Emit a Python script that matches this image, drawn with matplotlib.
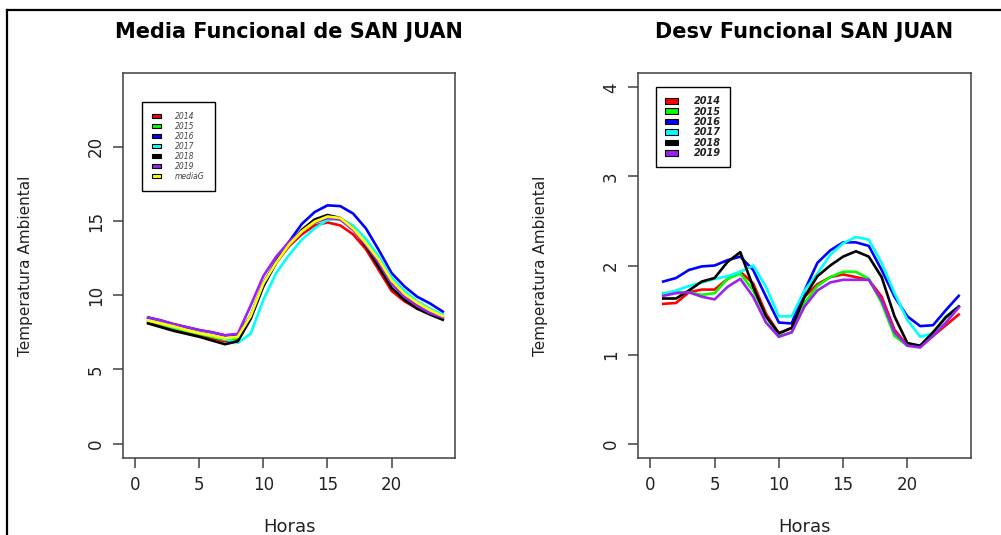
import matplotlib
matplotlib.use("Agg")
import matplotlib.pyplot as plt
from matplotlib.patches import Patch
from matplotlib.lines import Line2D

horas = list(range(1, 25))
anios = ["2014", "2015", "2016", "2017", "2018", "2019"]
colores = ["#FF0000", "#00FF00", "#0000FF", "#00FFFF", "#000000", "#A020F0"]

# media funcional por año
media_2014 = [8.2, 7.95, 7.7, 7.5, 7.3, 7.1, 6.9, 7.0, 8.5, 10.7, 12.2, 13.3, 14.1, 14.7, 14.9, 14.7, 14.1, 13.1, 11.7, 10.3, 9.6, 9.1, 8.75, 8.4]
media_2015 = [8.3, 8.05, 7.8, 7.6, 7.4, 7.2, 7.0, 7.1, 8.6, 10.8, 12.2, 13.4, 14.3, 14.9, 15.2, 15.1, 14.5, 13.4, 12.2, 10.8, 9.9, 9.3, 8.85, 8.5]
media_2016 = [8.5, 8.3, 8.05, 7.85, 7.65, 7.5, 7.3, 7.35, 8.6, 10.8, 12.3, 13.6, 14.8, 15.6, 16.05, 16.0, 15.5, 14.5, 13.05, 11.5, 10.6, 9.9, 9.45, 8.9]
media_2017 = [8.3, 8.1, 7.85, 7.65, 7.45, 7.28, 7.05, 6.8, 7.4, 9.7, 11.5, 12.7, 13.75, 14.5, 15.07, 15.15, 14.7, 13.8, 12.6, 11.2, 10.3, 9.6, 9.1, 8.7]
media_2018 = [8.1, 7.85, 7.6, 7.4, 7.2, 6.95, 6.7, 6.9, 8.4, 10.6, 12.2, 13.4, 14.4, 15.1, 15.4, 15.2, 14.5, 13.3, 11.9, 10.5, 9.7, 9.1, 8.7, 8.35]
media_2019 = [8.5, 8.3, 8.05, 7.85, 7.65, 7.5, 7.3, 7.4, 9.3, 11.3, 12.6, 13.6, 14.3, 14.9, 15.2, 15.1, 14.4, 13.4, 12.2, 10.8, 9.9, 9.3, 8.8, 8.5]
media_g = [8.3, 8.1, 7.9, 7.65, 7.45, 7.28, 7.1, 7.2, 8.6, 10.8, 12.2, 13.4, 14.3, 14.95, 15.3, 15.2, 14.5, 13.5, 12.4, 11.0, 10.1, 9.5, 9.0, 8.6]

# desviacion funcional por año
desv_2014 = [1.57, 1.58, 1.70, 1.73, 1.73, 1.85, 1.93, 1.80, 1.46, 1.24, 1.30, 1.65, 1.79, 1.87, 1.90, 1.87, 1.84, 1.65, 1.28, 1.10, 1.10, 1.21, 1.33, 1.45]
desv_2015 = [1.69, 1.70, 1.70, 1.67, 1.69, 1.85, 1.91, 1.72, 1.43, 1.21, 1.25, 1.58, 1.77, 1.87, 1.93, 1.93, 1.85, 1.58, 1.21, 1.10, 1.10, 1.25, 1.42, 1.54]
desv_2016 = [1.82, 1.86, 1.95, 1.99, 2.00, 2.06, 2.10, 1.95, 1.65, 1.36, 1.35, 1.72, 2.03, 2.17, 2.26, 2.26, 2.22, 1.95, 1.65, 1.43, 1.32, 1.33, 1.50, 1.66]
desv_2017 = [1.68, 1.72, 1.77, 1.81, 1.85, 1.88, 1.93, 2.00, 1.76, 1.43, 1.43, 1.72, 1.91, 2.12, 2.25, 2.32, 2.29, 2.03, 1.69, 1.39, 1.20, 1.24, 1.43, 1.54]
desv_2018 = [1.63, 1.63, 1.72, 1.82, 1.86, 2.04, 2.15, 1.76, 1.43, 1.24, 1.30, 1.65, 1.88, 2.00, 2.10, 2.16, 2.10, 1.87, 1.43, 1.13, 1.10, 1.25, 1.42, 1.54]
desv_2019 = [1.66, 1.69, 1.70, 1.65, 1.62, 1.76, 1.85, 1.65, 1.36, 1.20, 1.25, 1.54, 1.72, 1.81, 1.84, 1.84, 1.84, 1.61, 1.25, 1.10, 1.08, 1.21, 1.36, 1.53]

medias = [media_2014, media_2015, media_2016, media_2017, media_2018, media_2019]
desvs = [desv_2014, desv_2015, desv_2016, desv_2017, desv_2018, desv_2019]

fig = plt.figure(figsize=(10.01, 5.35), dpi=100)
ax1 = fig.add_axes([0.1229, 0.1439, 0.3317, 0.7196])
ax2 = fig.add_axes([0.6374, 0.1439, 0.3327, 0.7196])

for serie, c in zip(medias, colores):
    ax1.plot(horas, serie, color=c, linewidth=1.9)
ax1.plot(horas, media_g, color="#FFFF00", linewidth=1.9)

for serie, c in zip(desvs, colores):
    ax2.plot(horas, serie, color=c, linewidth=1.9)


def estilo(ax, titulo, ylim, yticks):
    ax.set_xlim(-0.96, 24.96)
    ax.set_ylim(*ylim)
    ax.set_xticks([0, 5, 10, 15, 20])
    ax.set_yticks(yticks)
    for s in ax.spines.values():
        s.set_color("#404040")
        s.set_linewidth(1.1)
    ax.tick_params(length=7, width=1.1, color="#404040", labelsize=12, labelcolor="#222222", pad=6)
    plt.setp(ax.get_yticklabels(), rotation=90, va="center")
    ax.set_title(titulo, fontsize=15, fontweight="bold", pad=25)
    ax.set_xlabel("Horas", fontsize=13, color="#222222")
    ax.set_ylabel("Temperatura Ambiental", fontsize=11, color="#222222")
    ax.xaxis.set_label_coords(0.5, -0.155)
    ax.yaxis.set_label_coords(-0.27, 0.5)


estilo(ax1, "Media Funcional de SAN JUAN", (-0.96, 24.96), [0, 5, 10, 15, 20])
estilo(ax2, "Desv Funcional SAN JUAN", (-0.16, 4.16), [0, 1, 2, 3, 4])

h1 = [Patch(facecolor=c, edgecolor="black", linewidth=0.8) for c in colores + ["#FFFF00"]]
leg1 = ax1.legend(h1, anios + ["mediaG"], loc="upper left", bbox_to_anchor=(0.056, 0.925),
                  fancybox=False, edgecolor="black", framealpha=1,
                  prop={"size": 5.5, "style": "italic"}, handlelength=1.3, handleheight=0.55,
                  labelspacing=0.13, borderpad=1.3, handletextpad=1.8, borderaxespad=0)
leg1.get_frame().set_linewidth(1.0)
for t in leg1.get_texts():
    t.set_color("#444444")

h2 = [Patch(facecolor=c, edgecolor="black", linewidth=0.8) for c in colores]
leg2 = ax2.legend(h2, anios, loc="upper left", bbox_to_anchor=(0.054, 0.963),
                  fancybox=False, edgecolor="black", framealpha=1,
                  prop={"size": 7, "style": "italic", "weight": "bold"}, handlelength=1.4,
                  handleheight=0.55, labelspacing=0.05, borderpad=0.9, handletextpad=1.6,
                  borderaxespad=0)
leg2.get_frame().set_linewidth(1.0)
for t in leg2.get_texts():
    t.set_color("#222222")

# marco de la captura
fig.add_artist(Line2D([7 / 1001, 7 / 1001], [0, 1 - 10 / 535], transform=fig.transFigure, color="black", linewidth=1.6))
fig.add_artist(Line2D([7 / 1001, 1], [1 - 10 / 535, 1 - 10 / 535], transform=fig.transFigure, color="black", linewidth=1.6))

fig.savefig("out.png", dpi=100)
